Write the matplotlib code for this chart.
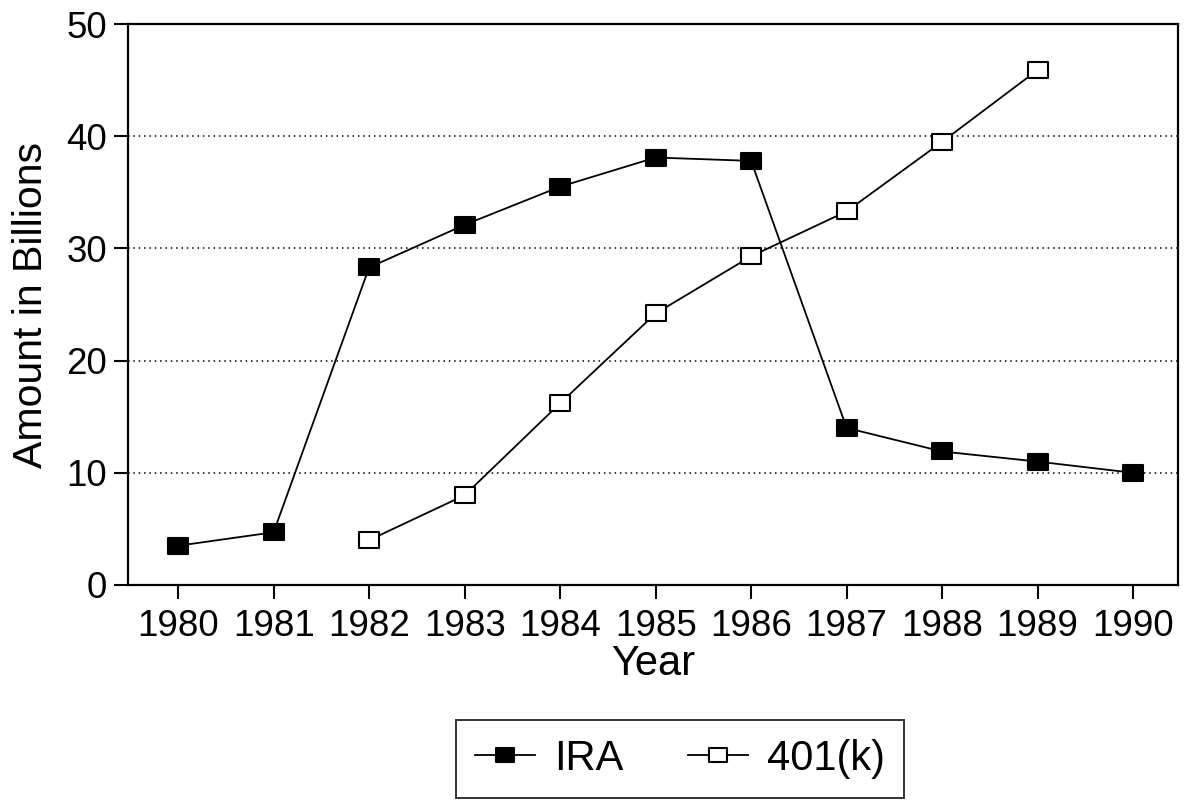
import numpy as np
import matplotlib.pyplot as plt
from matplotlib.path import Path

plt.rcParams['font.family'] = ['Liberation Sans', 'DejaVu Sans']

# values (billions)
years = list(range(1980, 1991))
ira_years = years
ira_values = [3.5, 4.7, 28.3, 32.1, 35.5, 38.1, 37.8, 14.0, 11.9, 11.0, 10.0]
k401_years = list(range(1982, 1990))
k401_values = [4.0, 8.0, 16.2, 24.2, 29.3, 33.3, 39.5, 45.9]

# slightly wide rectangle marker like the original
rect = Path([(-1, -0.75), (1, -0.75), (1, 0.75), (-1, 0.75), (-1, -0.75)],
            [Path.MOVETO, Path.LINETO, Path.LINETO, Path.LINETO, Path.CLOSEPOLY])

fig = plt.figure(figsize=(11.85, 8.01), dpi=100)
ax = fig.add_axes([128 / 1185, 1 - 585 / 801, 1050 / 1185, 561 / 801])

ax.plot(ira_years, ira_values, color='black', lw=1.3, marker=rect,
        markersize=15, markerfacecolor='black', markeredgecolor='black',
        markeredgewidth=1.5, label='IRA', zorder=3)
ax.plot(k401_years, k401_values, color='black', lw=1.3, marker=rect,
        markersize=15, markerfacecolor='white', markeredgecolor='black',
        markeredgewidth=1.5, label='401(k)', zorder=3)

ax.set_xlim(1979.475, 1990.47)
ax.set_ylim(0, 50)
ax.set_xticks(years)
ax.set_yticks([0, 10, 20, 30, 40, 50])
ax.tick_params(axis='both', labelsize=26.5, width=1.5, direction='out')
ax.tick_params(axis='x', length=10, pad=7)
ax.tick_params(axis='y', length=10, pad=5)

for y in [10, 20, 30, 40]:
    ax.axhline(y, color='black', lw=1.1, ls=(0, (1, 2.5)), zorder=1)

for s in ax.spines.values():
    s.set_linewidth(1.6)

ax.set_xlabel('Year', fontsize=30, labelpad=0)
ax.set_ylabel('Amount in Billions', fontsize=29.5, labelpad=12)

leg = fig.legend(loc='center', bbox_to_anchor=(680 / 1185, 1 - 759 / 801),
                 ncol=2, fontsize=30, frameon=True, fancybox=False,
                 edgecolor='black', handlelength=1.45, columnspacing=1.55,
                 borderpad=0.45, handletextpad=0.45, borderaxespad=0,
                 markerscale=0.85)
leg.get_frame().set_linewidth(1.4)

fig.savefig('out.png', dpi=100)
